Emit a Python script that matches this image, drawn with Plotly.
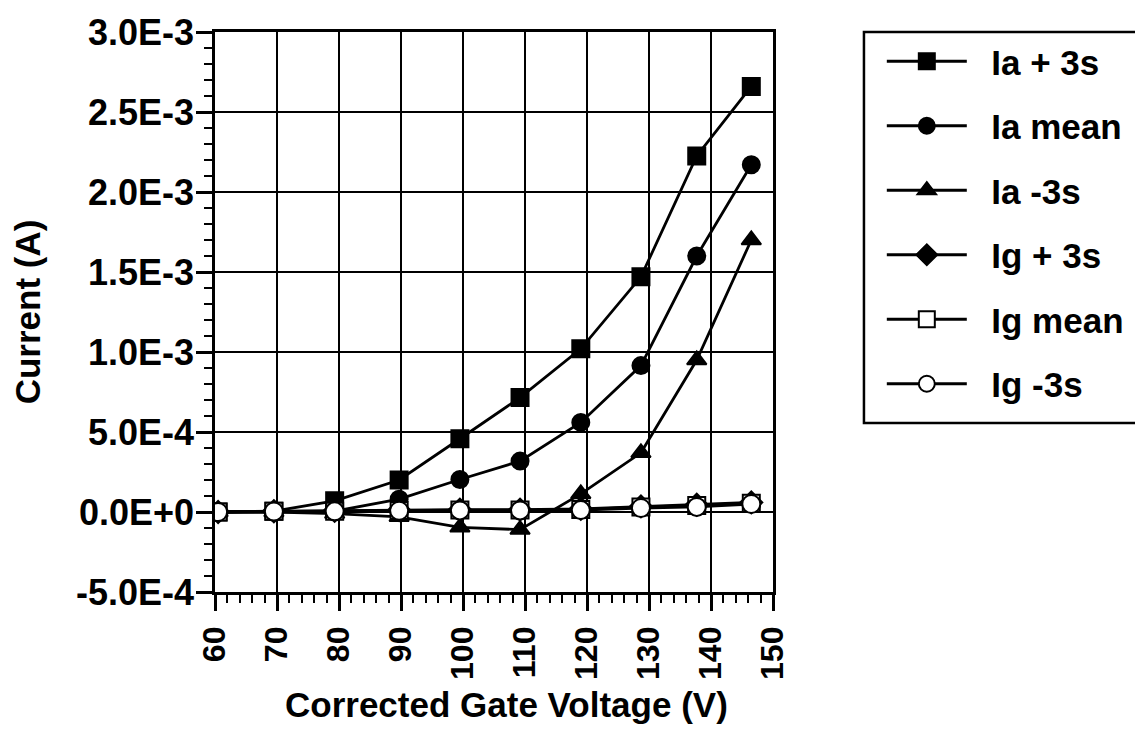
import plotly.graph_objects as go

# gate voltage (V) at each measurement
voltage = [60.5, 69.5, 79.3, 89.7, 99.5, 109.2, 119.0, 128.7, 137.7, 146.5]

# anode current (A)
ia_plus3s = [0.0, 5e-6, 7e-5, 2.0e-4, 4.58e-4, 7.15e-4, 1.02e-3, 1.47e-3, 2.225e-3, 2.66e-3]
ia_mean = [0.0, 0.0, 5e-6, 8e-5, 2.03e-4, 3.18e-4, 5.6e-4, 9.15e-4, 1.6e-3, 2.17e-3]
ia_minus3s = [0.0, 0.0, -1e-5, -3e-5, -9.6e-5, -1.1e-4, 1.13e-4, 3.7e-4, 9.5e-4, 1.70e-3]

# gate current (A)
ig_plus3s = [0.0, 5e-6, 8e-6, 1.2e-5, 1.5e-5, 1.5e-5, 2e-5, 3.5e-5, 4.5e-5, 6e-5]
ig_mean = [0.0, 5e-6, 5e-6, 1e-5, 1.2e-5, 1.2e-5, 1.5e-5, 3.2e-5, 4e-5, 5.5e-5]
ig_minus3s = [0.0, 3e-6, 4e-6, 8e-6, 1e-5, 1e-5, 1.2e-5, 2.5e-5, 3.2e-5, 5e-5]

y_ticks = [-5e-4, 0, 5e-4, 1e-3, 1.5e-3, 2e-3, 2.5e-3, 3e-3]
y_labels = ["-5.0E-4", "0.0E+0", "5.0E-4", "1.0E-3", "1.5E-3", "2.0E-3", "2.5E-3", "3.0E-3"]
x_ticks = [60, 70, 80, 90, 100, 110, 120, 130, 140, 150]
# figure-space padding keeps the rotated labels flush against the axis
x_labels = [str(v).rjust(3, "\u2007") for v in x_ticks]

FONT = "Liberation Sans, Arial, sans-serif"
PAD = "\u00a0\u00a0"  # gap between legend symbol and label

series = [
    ("Ia + 3s", ia_plus3s, "square", "black", 17),
    ("Ia mean", ia_mean, "circle", "black", 17),
    ("Ia -3s", ia_minus3s, "triangle-up", "black", 17),
    ("Ig + 3s", ig_plus3s, "diamond", "black", 17),
    ("Ig mean", ig_mean, "square", "white", 17),
    ("Ig -3s", ig_minus3s, "circle", "white", 18),
]

fig = go.Figure()
for i, (name, vals, sym, fill, size) in enumerate(series):
    fig.add_trace(
        go.Scatter(
            x=voltage,
            y=vals,
            mode="lines+markers",
            name=PAD + name,
            legendgroup=f"g{i}",
            line=dict(color="black", width=2.8),
            marker=dict(symbol=sym, size=size, color=fill,
                        line=dict(color="black", width=2)),
        )
    )

axis_common = dict(
    showline=True, linecolor="black", linewidth=2.5, mirror=True,
    showgrid=True, gridcolor="black", gridwidth=2.2,
    ticks="outside", ticklen=16, tickwidth=2.5, tickcolor="black",
    zeroline=False,
)

fig.update_xaxes(
    range=[60, 150], tickvals=x_ticks, ticktext=x_labels, tickangle=-90,
    tickfont=dict(family=FONT, size=32, color="black", weight="bold"),
    ticklabelstandoff=3,
    minor=dict(dtick=2, ticks="outside", ticklen=8, tickwidth=2, tickcolor="black", showgrid=False),
    automargin=False,
    **axis_common,
)
fig.update_yaxes(
    range=[-5e-4, 3e-3], tickvals=y_ticks, ticktext=y_labels,
    tickfont=dict(family=FONT, size=36, color="black", weight="bold"),
    ticklabelstandoff=-5,
    minor=dict(dtick=1e-4, ticks="outside", ticklen=8, tickwidth=2, tickcolor="black", showgrid=False),
    title=dict(text="Current (A)", standoff=34,
               font=dict(family=FONT, size=35, color="black", weight="bold")),
    automargin="left",
    **axis_common,
)

# x-axis title, centred a little right of the plot as in the original
fig.add_annotation(
    text="Corrected Gate Voltage (V)", xref="paper", yref="paper",
    x=0.523, y=-0.2, xanchor="center", yanchor="middle", showarrow=False,
    font=dict(family=FONT, size=35, color="black", weight="bold"),
)

# legend frame (right side runs off the page, as in the original)
fig.add_shape(type="rect", xref="paper", yref="paper",
              x0=1.163, x1=1.70, y0=0.302, y1=1.0,
              line=dict(color="black", width=2.5), fillcolor="rgba(0,0,0,0)")

fig.update_layout(
    width=1135, height=722,
    margin=dict(l=207, r=370, t=24, b=138, autoexpand=False),
    paper_bgcolor="white", plot_bgcolor="white",
    legend=dict(
        x=1.195, y=1.0, xanchor="left", yanchor="top",
        borderwidth=0, bgcolor="rgba(0,0,0,0)",
        font=dict(family=FONT, size=35, color="black", weight="bold"),
        itemwidth=80, tracegroupgap=16, itemsizing="trace",
    ),
    showlegend=True,
)

fig.write_html("out.html")
